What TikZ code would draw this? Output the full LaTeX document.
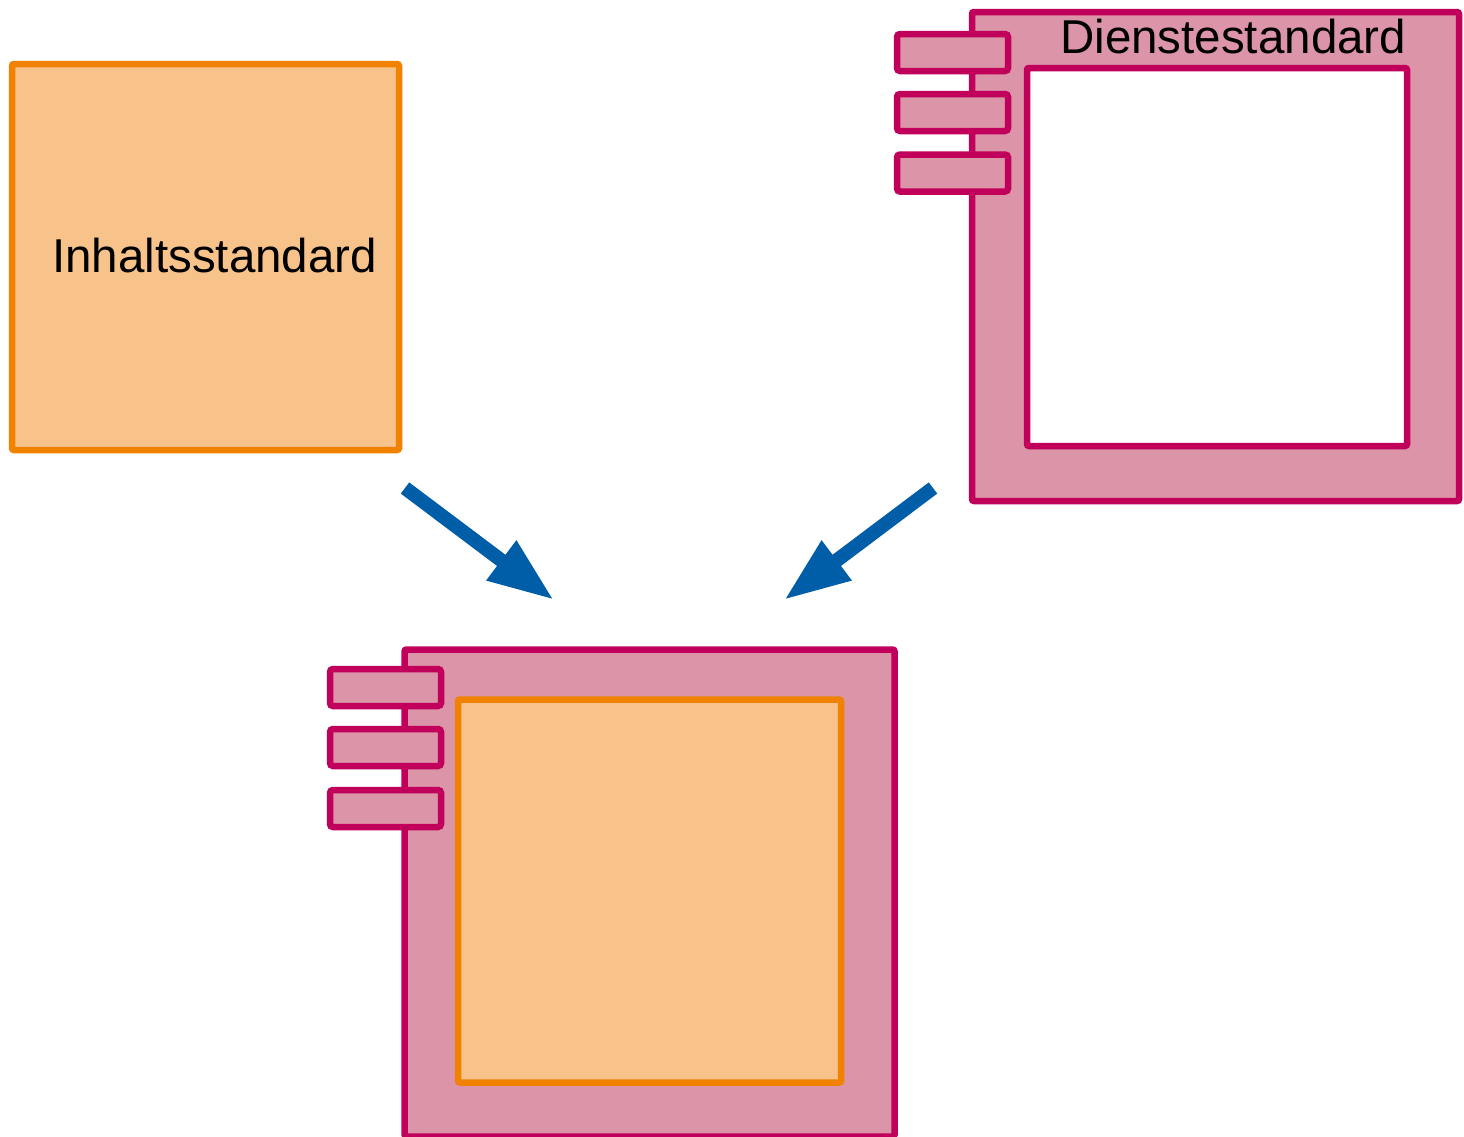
\documentclass[tikz,border=0pt]{standalone}
\usepackage{fontspec}
\setmainfont{Liberation Sans}
\usetikzlibrary{arrows.meta}
\definecolor{orstroke}{HTML}{F08200}
\definecolor{orfill}{HTML}{F8C38A}
\definecolor{pkstroke}{HTML}{C0005A}
\definecolor{pkfill}{HTML}{DB94A8}
\definecolor{arblue}{HTML}{005DA8}
\tikzset{
  contentbox/.style={draw=orstroke, fill=orfill, line width=6.5pt, rectangle, rounded corners=2pt, inner sep=0pt},
  servicebox/.style={draw=pkstroke, fill=pkfill, line width=6.5pt, rectangle, rounded corners=2pt, inner sep=0pt},
  innerwhite/.style={draw=pkstroke, fill=white, line width=6.5pt, rectangle, rounded corners=2pt, inner sep=0pt},
  tabbox/.style={draw=pkstroke, fill=pkfill, line width=6.5pt, rectangle, rounded corners=3pt, inner sep=0pt, minimum width=111pt, minimum height=37pt},
  label/.style={font=\fontsize{47.5pt}{50pt}\selectfont, inner sep=0pt, anchor=base west},
  flowarrow/.style={draw=arblue, line width=14pt, -{Triangle[length=66pt,width=46pt]}, arblue}
}
\begin{document}
\begin{tikzpicture}[x=1pt,y=-1pt]
\useasboundingbox (0,0) rectangle (1464,1136);
% content standard
\node[contentbox, minimum width=387pt, minimum height=386pt] (inhalt) at (205.5,257) {};
\node[label] (inhalttext) at (52,272) {Inhaltsstandard};
% service standard
\node[servicebox, minimum width=487pt, minimum height=489pt] (dienst) at (1215.5,256.5) {};
\node[innerwhite, minimum width=380pt, minimum height=378pt] (dienstinner) at (1217,257) {};
\node[tabbox] (dt1) at (952.5,52.5) {};
\node[tabbox] (dt2) at (952.5,112.5) {};
\node[tabbox] (dt3) at (952.5,173) {};
\node[label] (diensttext) at (1060,53) {Dienstestandard};
% combined
\node[servicebox, minimum width=490pt, minimum height=487pt] (kombi) at (649.5,893) {};
\node[contentbox, minimum width=383pt, minimum height=383pt] (kombiinner) at (649.5,891) {};
\node[tabbox] (kt1) at (385.5,687.5) {};
\node[tabbox] (kt2) at (385.5,747.5) {};
\node[tabbox] (kt3) at (385.5,808.5) {};
% arrows
\coordinate (a1s) at (405,488);
\coordinate (a1e) at (554,600);
\coordinate (a2s) at (933,488);
\coordinate (a2e) at (784,600);
\draw[flowarrow] (a1s) -- (a1e);
\draw[flowarrow] (a2s) -- (a2e);
\end{tikzpicture}
\end{document}
